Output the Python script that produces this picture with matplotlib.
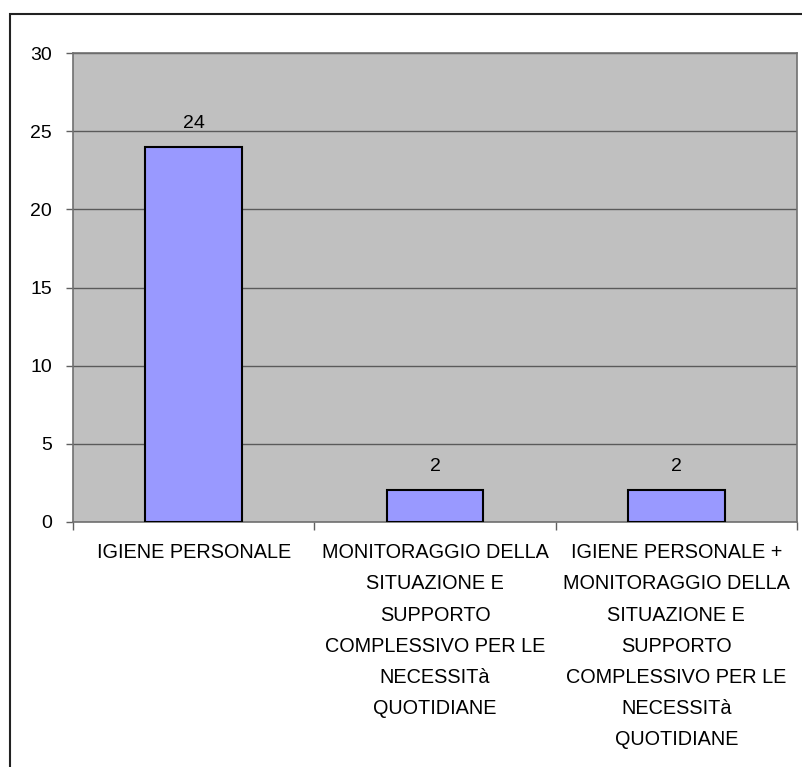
import matplotlib
matplotlib.use("Agg")
import matplotlib.pyplot as plt
from matplotlib.patches import Rectangle

categories = [
    "IGIENE PERSONALE",
    "MONITORAGGIO DELLA\nSITUAZIONE E\nSUPPORTO\nCOMPLESSIVO PER LE\nNECESSITà\nQUOTIDIANE",
    "IGIENE PERSONALE +\nMONITORAGGIO DELLA\nSITUAZIONE E\nSUPPORTO\nCOMPLESSIVO PER LE\nNECESSITà\nQUOTIDIANE",
]
values = [24, 2, 2]
yticks = [0, 5, 10, 15, 20, 25, 30]

plt.rcParams['font.family'] = ['Liberation Sans', 'DejaVu Sans']

W, H = 803, 767
fig = plt.figure(figsize=(W / 100, H / 100), dpi=100)
fig.patch.set_facecolor("white")

# outer chart border
fig.patches.append(Rectangle((10 / W, -0.01), 1.0, (H - 14) / H + 0.01,
                             transform=fig.transFigure, fill=False,
                             edgecolor="#222222", linewidth=1.5))

ax = fig.add_axes([73 / W, (H - 521.7) / H, 724 / W, (521.7 - 53.3) / H])
ax.set_facecolor("#C0C0C0")

x = list(range(len(categories)))
ax.bar(x, values, width=0.4, color="#9999FF", edgecolor="black", linewidth=1.5, zorder=3)
for xi, v in zip(x, values):
    ax.annotate(str(v), (xi, v), xytext=(0, 19), textcoords="offset pixels",
                ha="center", va="baseline", fontsize=14, color="black")

ax.set_xlim(-0.5, len(categories) - 0.5)
ax.set_ylim(0, 30)
ax.set_yticks(yticks)
ax.set_yticklabels([str(t) for t in yticks], fontsize=14)
ax.yaxis.grid(True, color="#5a5a5a", linewidth=1.0, zorder=1)
ax.set_axisbelow(True)

ax.set_xticks([i - 0.5 for i in range(len(categories) + 1)], minor=False)
ax.set_xticklabels([])
ax.set_xticks(x, minor=True)
ax.set_xticklabels(categories, minor=True, fontsize=14.3, linespacing=1.81, va="top")
ax.tick_params(axis="x", which="minor", length=0, pad=15.5)
ax.tick_params(axis="x", which="major", length=6, width=1, color="#606060", direction="out")
ax.tick_params(axis="y", length=5, width=1, color="#606060", direction="out", pad=10)

for s in ax.spines.values():
    s.set_color("#707070")
    s.set_linewidth(1.2)

fig.savefig("out.png", dpi=100)
